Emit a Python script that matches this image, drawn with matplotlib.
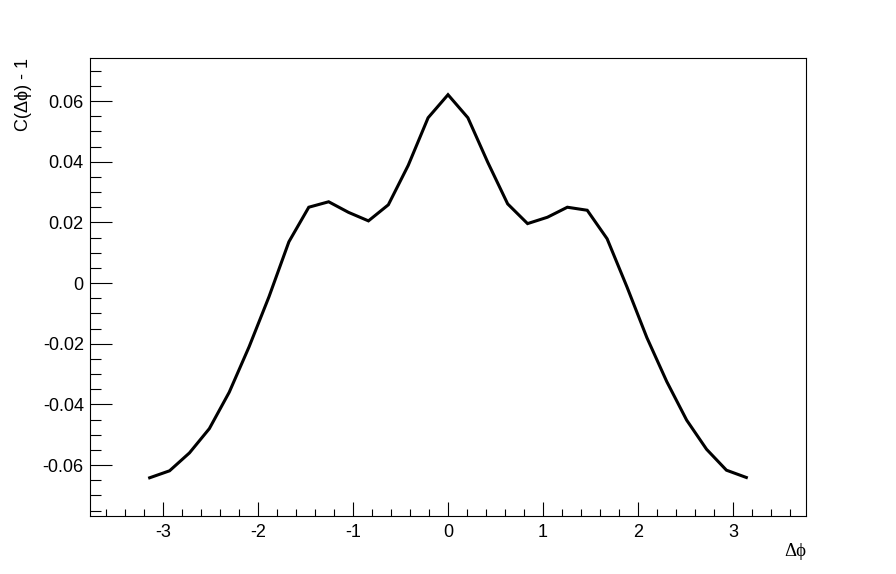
import numpy as np
import matplotlib
matplotlib.use("Agg")
import matplotlib.pyplot as plt
from matplotlib.ticker import MultipleLocator, FixedLocator, FixedFormatter

plt.rcParams['font.family'] = ['Liberation Sans', 'DejaVu Sans']
plt.rcParams['axes.unicode_minus'] = False

# Data: Δφ bins from -π to π (31 points, step π/15)
dphi = np.linspace(-np.pi, np.pi, 31)
corr = [-0.0642, -0.0619, -0.0560, -0.0480, -0.0360, -0.0210, -0.0045, 0.0136,
        0.0250, 0.0268, 0.0233, 0.0205, 0.0258, 0.0388, 0.0545, 0.0621,
        0.0545, 0.0398, 0.0261, 0.0196, 0.0217, 0.0250, 0.0240, 0.0146,
        -0.0013, -0.0180, -0.0325, -0.0452, -0.0548, -0.0617, -0.0641]

xticks = [-3, -2, -1, 0, 1, 2, 3]
xticklabels = ['-3', '-2', '-1', '0', '1', '2', '3']
yticks = [-0.06, -0.04, -0.02, 0.0, 0.02, 0.04, 0.06]
yticklabels = ['-0.06', '-0.04', '-0.02', '0', '0.02', '0.04', '0.06']

fig = plt.figure(figsize=(8.96, 5.74), dpi=100)
ax = fig.add_axes([90/896, 1-516/574, (806-90)/896, (516-58)/574])

ax.plot(dphi, corr, color='black', lw=2.2, solid_joinstyle='miter')

ax.set_xlim(-1.2*np.pi, 1.2*np.pi)
ax.set_ylim(-0.0768, 0.0742)

ax.xaxis.set_major_locator(FixedLocator(xticks))
ax.xaxis.set_major_formatter(FixedFormatter(xticklabels))
ax.xaxis.set_minor_locator(MultipleLocator(0.2))
ax.yaxis.set_major_locator(FixedLocator(yticks))
ax.yaxis.set_major_formatter(FixedFormatter(yticklabels))
ax.yaxis.set_minor_locator(MultipleLocator(0.005))

ax.tick_params(axis='both', which='both', direction='in', top=False, right=False,
               labelsize=13, colors='black')
ax.tick_params(axis='y', which='major', length=15.8, width=0.8, pad=4.5)
ax.tick_params(axis='y', which='minor', length=8.2, width=0.8)
ax.tick_params(axis='x', which='major', length=10, width=0.8, pad=5.5)
ax.tick_params(axis='x', which='minor', length=5, width=0.8)

for s in ax.spines.values():
    s.set_linewidth(0.8)
    s.set_color('black')

fig.text(806/896, 1-552/574, 'Δϕ', ha='right', va='center', fontsize=13.5,
         family=['Liberation Serif', 'DejaVu Serif'])
fig.text(23/896, 1-58/574, 'C(Δϕ) - 1', ha='center', va='top', rotation=90,
         fontsize=13)

fig.savefig('out.png', dpi=100, facecolor='white')
